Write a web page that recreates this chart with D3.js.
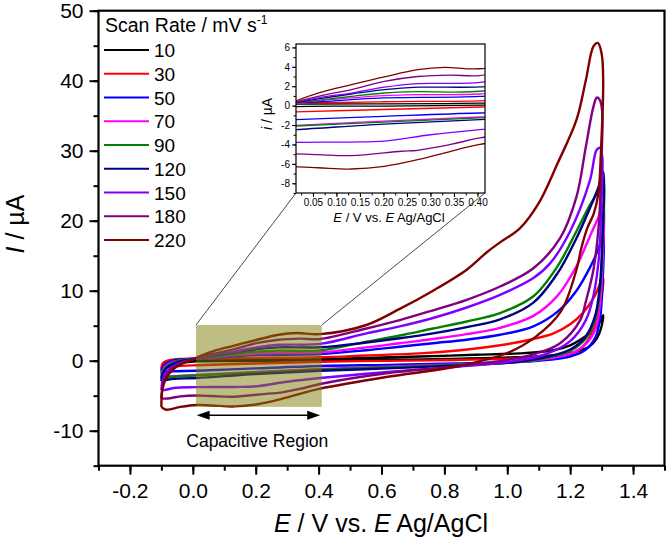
<!DOCTYPE html>
<html><head><meta charset="utf-8">
<script src="https://cdn.jsdelivr.net/npm/d3@7"></script>
<style>
body{margin:0;background:#fff}
svg{display:block}
text{font-family:"Liberation Sans",Arial,Helvetica,sans-serif;fill:#000}
</style>
</head><body>
<svg id="c" width="666" height="548"></svg>
<script>
// ---------------- data ----------------
const scanRates = ["10","30","50","70","90","120","150","180","220"];
const colors = ["#000000","#ff0000","#0000ff","#ff00ff","#008000","#000080","#8000ff","#800080","#800000"];

// forward (anodic) and reverse (cathodic) branches, [E (V), I (µA)]
const fwd10 = [[-0.1,-1.4],[-0.096,-0.7],[-0.085,-0.3],[-0.064,0.0],[-0.032,0.1],[0.0,0.15],[0.05,0.17],[0.2,0.18],[0.403,0.25],[0.6,0.45],[0.722,0.6],[0.9,0.85],[1.04,1.05],[1.147,1.5],[1.2,2.2],[1.232,3.0],[1.265,4.0],[1.29,5.2],[1.305,6.5]];
const rev10 = [[1.305,6.5],[1.298,4.6],[1.285,3.2],[1.26,2.0],[1.22,1.3],[1.15,0.8],[1.0,0.45],[0.8,0.25],[0.6,0.1],[0.405,0.05],[0.2,-0.05],[0.012,-0.1],[-0.05,-0.4],[-0.085,-0.9],[-0.1,-1.4]];

const fwd30 = [[-0.1,-1.1],[-0.096,-0.4],[-0.085,-0.05],[-0.064,0.15],[-0.032,0.25],[0.0,0.3],[0.061,0.3],[0.2,0.4],[0.405,0.5],[0.55,0.75],[0.722,1.05],[0.85,1.5],[0.977,2.2],[1.083,3.1],[1.147,3.9],[1.2,5.2],[1.24,6.8],[1.275,9.0],[1.305,11.8]];
const rev30 = [[1.305,11.8],[1.292,7.2],[1.274,4.4],[1.24,2.0],[1.21,1.05],[1.12,0.55],[1.04,0.35],[0.83,0.1],[0.62,-0.02],[0.405,-0.14],[0.2,-0.4],[0.012,-0.65],[-0.06,-0.8],[-0.09,-0.95],[-0.1,-1.1]];

const fwd50 = [[-0.1,-1.8],[-0.096,-1.0],[-0.085,-0.4],[-0.064,0.0],[-0.032,0.2],[0.0,0.3],[0.061,0.4],[0.132,0.62],[0.202,0.8],[0.405,0.96],[0.552,1.5],[0.658,2.0],[0.764,2.5],[0.871,3.0],[0.977,3.7],[1.083,4.9],[1.16,7.0],[1.22,10.0],[1.265,13.5],[1.29,16.0],[1.305,18.2]];
const rev50 = [[1.305,18.2],[1.303,11],[1.295,6],[1.28,3.3],[1.25,1.6],[1.2,0.6],[1.1,0.0],[1.0,-0.2],[0.83,-0.4],[0.62,-0.6],[0.405,-0.76],[0.2,-1.1],[0.012,-1.44],[-0.06,-1.5],[-0.09,-1.6],[-0.1,-1.8]];

const fwd70 = [[-0.1,-2.4],[-0.096,-1.4],[-0.085,-0.7],[-0.064,-0.2],[-0.032,0.1],[0.0,0.25],[0.061,0.5],[0.132,0.8],[0.202,1.03],[0.273,1.13],[0.405,1.2],[0.552,1.9],[0.658,2.5],[0.764,3.1],[0.871,3.8],[0.977,4.7],[1.083,6.4],[1.16,9.3],[1.22,13.5],[1.265,18.0],[1.29,20.5],[1.305,22.2]];
const rev70 = [[1.305,22.2],[1.303,14],[1.295,8],[1.28,4.5],[1.25,2.4],[1.2,1.0],[1.1,0.1],[1.0,-0.3],[0.83,-0.55],[0.62,-0.85],[0.405,-1.17],[0.2,-1.6],[0.012,-2.03],[-0.06,-2.2],[-0.09,-2.3],[-0.1,-2.4]];

const fwd90 = [[-0.1,-2.6],[-0.096,-1.6],[-0.085,-0.9],[-0.064,-0.3],[-0.032,0.1],[0.0,0.25],[0.061,0.55],[0.132,0.96],[0.202,1.3],[0.273,1.44],[0.405,1.48],[0.552,2.7],[0.658,3.6],[0.764,4.6],[0.871,5.6],[0.977,6.8],[1.083,9.2],[1.16,13.5],[1.22,18.5],[1.26,22.0],[1.29,24.3],[1.305,25.6]];
const rev90 = [[1.305,25.6],[1.303,17],[1.295,10],[1.28,6],[1.25,3.2],[1.2,1.4],[1.1,0.2],[1.0,-0.3],[0.83,-0.6],[0.62,-0.95],[0.405,-1.27],[0.2,-1.7],[0.012,-2.1],[-0.06,-2.3],[-0.09,-2.5],[-0.1,-2.6]];

const fwd120 = [[-0.1,-2.9],[-0.096,-1.9],[-0.085,-1.1],[-0.064,-0.5],[-0.032,0.0],[0.0,0.2],[0.061,0.69],[0.132,1.2],[0.202,1.65],[0.273,1.9],[0.405,1.93],[0.552,2.6],[0.658,3.2],[0.764,3.9],[0.871,4.8],[0.977,5.9],[1.083,8.3],[1.16,12.5],[1.22,17.5],[1.26,21.5],[1.29,24.8],[1.305,27.0]];
const rev120 = [[1.305,27.0],[1.303,18],[1.295,11],[1.28,6.5],[1.25,3.5],[1.2,1.6],[1.1,0.3],[1.0,-0.3],[0.83,-0.7],[0.62,-1.1],[0.405,-1.44],[0.2,-1.9],[0.012,-2.47],[-0.06,-2.6],[-0.09,-2.8],[-0.1,-2.9]];

const fwd150 = [[-0.1,-4.2],[-0.096,-2.8],[-0.085,-1.7],[-0.064,-0.8],[-0.032,-0.2],[0.0,0.2],[0.061,0.8],[0.132,1.3],[0.202,1.9],[0.273,2.27],[0.405,2.4],[0.552,3.9],[0.658,4.9],[0.764,6.1],[0.871,7.6],[0.977,9.4],[1.083,11.8],[1.136,13.9],[1.2,18.5],[1.263,25.8],[1.284,30.1],[1.295,30.4],[1.302,29.2]];
const rev150 = [[1.302,29.2],[1.299,22],[1.292,15],[1.275,9.5],[1.25,5.8],[1.2,2.8],[1.12,0.9],[1.0,-0.2],[0.83,-0.9],[0.62,-1.6],[0.405,-2.47],[0.3,-3.0],[0.202,-3.65],[0.132,-3.75],[0.012,-3.78],[-0.06,-3.9],[-0.09,-4.2],[-0.1,-4.2]];

const fwd180 = [[-0.1,-5.4],[-0.096,-3.6],[-0.085,-2.2],[-0.064,-1.0],[-0.032,-0.3],[0.0,0.2],[0.061,0.96],[0.132,1.65],[0.202,2.5],[0.273,3.0],[0.343,3.15],[0.405,3.1],[0.552,4.6],[0.658,5.8],[0.764,7.2],[0.871,8.7],[0.977,10.6],[1.083,13.2],[1.168,17.5],[1.22,23.4],[1.25,30.6],[1.274,36.3],[1.285,37.6],[1.295,37.2],[1.302,35.5]];
const rev180 = [[1.302,35.5],[1.298,27],[1.292,20],[1.274,13],[1.25,8.5],[1.232,5.8],[1.168,2.5],[1.094,1.05],[0.998,0.1],[0.828,-0.85],[0.616,-1.8],[0.405,-3.33],[0.343,-4.0],[0.273,-4.6],[0.238,-4.7],[0.132,-5.15],[0.061,-5.05],[0.012,-4.98],[-0.04,-5.1],[-0.08,-5.4],[-0.1,-5.4]];

const fwd220 = [[-0.1,-6.6],[-0.097,-4.2],[-0.085,-2.5],[-0.064,-1.3],[-0.032,-0.4],[0.0,0.2],[0.012,0.45],[0.061,1.3],[0.132,2.16],[0.202,2.96],[0.273,3.7],[0.33,3.95],[0.405,3.8],[0.552,5.1],[0.658,7.4],[0.764,10.0],[0.871,13.0],[0.935,15.5],[0.977,16.9],[1.04,18.9],[1.10,22.5],[1.16,28.2],[1.22,34.4],[1.25,40.1],[1.274,44.9],[1.288,45.4],[1.30,43.9],[1.305,40]];
const rev220 = [[1.305,40],[1.298,30],[1.29,24],[1.275,21],[1.255,19],[1.235,16],[1.22,13],[1.17,7],[1.09,3.4],[1.0,1.1],[0.83,-0.9],[0.62,-2.3],[0.405,-4.0],[0.343,-4.7],[0.273,-5.57],[0.202,-6.25],[0.132,-6.53],[0.061,-6.4],[0.012,-6.32],[-0.04,-6.6],[-0.085,-7.0],[-0.1,-6.6]];

const forward = [fwd10,fwd30,fwd50,fwd70,fwd90,fwd120,fwd150,fwd180,fwd220];
const reverse = [rev10,rev30,rev50,rev70,rev90,rev120,rev150,rev180,rev220];

const xTicks = [-0.2,0.0,0.2,0.4,0.6,0.8,1.0,1.2,1.4];
const yTicks = [-10,0,10,20,30,40,50];
const insetXTicks = [0.05,0.10,0.15,0.20,0.25,0.30,0.35,0.40];
const insetYTicks = [-8,-6,-4,-2,0,2,4,6];
const regionE = [0.01,0.41];
const regionI = [-6.6,5.1];

// ---------------- drawing ----------------
const svg = d3.select("#c");
const x = d3.scaleLinear([-0.3,1.5],[98.5,664.5]);
const y = d3.scaleLinear([-15,50],[465.7,10.7]);
const xi = d3.scaleLinear([0.014,0.416],[296,485]);
const yi = d3.scaleLinear([-9,6.35],[193,44]);

const defs = svg.append("defs");
defs.append("clipPath").attr("id","cm").append("rect")
  .attr("x",x(-0.3)).attr("y",y(50)).attr("width",x(1.5)-x(-0.3)).attr("height",y(-15)-y(50));
defs.append("clipPath").attr("id","ci").append("rect")
  .attr("x",xi.range()[0]).attr("y",yi.range()[1]).attr("width",xi.range()[1]-xi.range()[0]).attr("height",yi.range()[0]-yi.range()[1]);

const series = scanRates.map((r,i)=>({rate:r,color:colors[i],pts:forward[i].concat(reverse[i].slice(1))}));

const lineMain = d3.line().x(d=>x(d[0])).y(d=>y(d[1])).curve(d3.curveCatmullRom.alpha(0.5));
const lineInset = d3.line().x(d=>xi(d[0])).y(d=>yi(d[1])).curve(d3.curveCatmullRom.alpha(0.5));

// main curves
svg.append("g").attr("clip-path","url(#cm)")
  .selectAll("path").data(series).join("path")
  .attr("d",d=>lineMain(d.pts)).attr("fill","none")
  .attr("stroke",d=>d.color).attr("stroke-width",2.4).attr("stroke-linejoin","round");

// capacitive region box
svg.append("rect")
  .attr("x",x(regionE[0])).attr("y",y(regionI[1]))
  .attr("width",x(regionE[1])-x(regionE[0])).attr("height",y(regionI[0])-y(regionI[1]))
  .attr("fill","rgb(125,125,10)").attr("fill-opacity",0.5);

// connectors to inset
svg.append("line").attr("x1",x(regionE[0])).attr("y1",y(regionI[1])).attr("x2",xi.range()[0]).attr("y2",yi.range()[0])
  .attr("stroke","#333").attr("stroke-width",0.9);
svg.append("line").attr("x1",x(regionE[1])).attr("y1",y(regionI[1])).attr("x2",xi.range()[1]).attr("y2",yi.range()[0])
  .attr("stroke","#333").attr("stroke-width",0.9);

// double arrow
const ay = y(-7.8), ax1 = x(0.012), ax2 = x(0.405);
svg.append("line").attr("x1",ax1+8).attr("x2",ax2-8).attr("y1",ay).attr("y2",ay).attr("stroke","#000").attr("stroke-width",1.6);
svg.append("path").attr("d",`M${ax1},${ay}L${ax1+13},${ay-4.5}L${ax1+13},${ay+4.5}Z`).attr("fill","#000");
svg.append("path").attr("d",`M${ax2},${ay}L${ax2-13},${ay-4.5}L${ax2-13},${ay+4.5}Z`).attr("fill","#000");
svg.append("text").attr("x",x(0.205)).attr("y",y(-12.3)).attr("text-anchor","middle")
  .style("font-size","17.5px").text("Capacitive Region");

// axes main
function styleAxis(g,fs){
  g.select(".domain").remove();
  g.selectAll(".tick line").attr("stroke","#000").attr("stroke-width",2);
  g.selectAll(".tick text").style("font-size",fs).style("font-family",'"Liberation Sans",Arial,sans-serif').attr("fill","#000");
}
const gxMinor = svg.append("g").attr("transform",`translate(0,${y(-15)})`)
  .call(d3.axisBottom(x).tickValues(d3.range(-3,16).map(v=>v/10)).tickSize(5).tickFormat(""));
styleAxis(gxMinor,"1px");
const gx = svg.append("g").attr("transform",`translate(0,${y(-15)})`)
  .call(d3.axisBottom(x).tickValues(xTicks).tickSize(9).tickPadding(8).tickFormat(d=>d.toFixed(1)));
styleAxis(gx,"21px");
const gyMinor = svg.append("g").attr("transform",`translate(${x(-0.3)},0)`)
  .call(d3.axisLeft(y).tickValues(d3.range(-15,51,5)).tickSize(5).tickFormat(""));
styleAxis(gyMinor,"1px");
const gy = svg.append("g").attr("transform",`translate(${x(-0.3)},0)`)
  .call(d3.axisLeft(y).tickValues(yTicks).tickSize(9).tickPadding(6).tickFormat(d=>String(d)));
styleAxis(gy,"21px");

// frame
svg.append("rect").attr("x",x(-0.3)).attr("y",y(50)).attr("width",x(1.5)-x(-0.3)).attr("height",y(-15)-y(50))
  .attr("fill","none").attr("stroke","#000").attr("stroke-width",2.2);

// axis titles
const xt = svg.append("text").attr("x",381).attr("y",532).attr("text-anchor","middle").style("font-size","25px");
xt.append("tspan").style("font-style","italic").text("E");
xt.append("tspan").text(" / V vs. ");
xt.append("tspan").style("font-style","italic").text("E");
xt.append("tspan").text(" Ag/AgCl");
const yt = svg.append("text").attr("transform","translate(24,224) rotate(-90)").attr("text-anchor","middle").style("font-size","25px");
yt.append("tspan").style("font-style","italic").text("I");
yt.append("tspan").text(" / µA");

// legend
const lg = svg.append("g");
const lt = lg.append("text").attr("x",105).attr("y",32).style("font-size","19.5px");
lt.append("tspan").text("Scan Rate / mV s");
lt.append("tspan").attr("dy",-8).style("font-size","12px").text("-1");
series.forEach((s,i)=>{
  const ly = 50 + i*23.75;
  lg.append("line").attr("x1",104).attr("x2",149).attr("y1",ly).attr("y2",ly).attr("stroke",s.color).attr("stroke-width",2.2);
  lg.append("text").attr("x",154).attr("y",ly+7).style("font-size","19px").text(s.rate);
});

// inset
svg.append("rect").attr("x",xi.range()[0]).attr("y",yi.range()[1]).attr("width",xi.range()[1]-xi.range()[0]).attr("height",yi.range()[0]-yi.range()[1])
  .attr("fill","#fff");
svg.append("g").attr("clip-path","url(#ci)")
  .selectAll("path").data(series).join("path")
  .attr("d",d=>lineInset(d.pts)).attr("fill","none")
  .attr("stroke",d=>d.color).attr("stroke-width",1.3);
function styleInset(g){
  g.select(".domain").remove();
  g.selectAll(".tick line").attr("stroke","#000").attr("stroke-width",1);
  g.selectAll(".tick text").style("font-size","10px").style("font-family",'"Liberation Sans",Arial,sans-serif').attr("fill","#000");
}
const gxiMinor = svg.append("g").attr("transform",`translate(0,${yi.range()[0]})`)
  .call(d3.axisBottom(xi).tickValues(d3.range(1,17).map(v=>v*0.025)).tickSize(2.5).tickFormat(""));
styleInset(gxiMinor);
const gxi = svg.append("g").attr("transform",`translate(0,${yi.range()[0]})`)
  .call(d3.axisBottom(xi).tickValues(insetXTicks).tickSize(4).tickPadding(2).tickFormat(d=>d.toFixed(2)));
styleInset(gxi);
const gyiMinor = svg.append("g").attr("transform",`translate(${xi.range()[0]},0)`)
  .call(d3.axisLeft(yi).tickValues(d3.range(-9,7)).tickSize(2.5).tickFormat(""));
styleInset(gyiMinor);
const gyi = svg.append("g").attr("transform",`translate(${xi.range()[0]},0)`)
  .call(d3.axisLeft(yi).tickValues(insetYTicks).tickSize(4).tickPadding(2).tickFormat(d=>String(d)));
styleInset(gyi);
svg.append("rect").attr("x",xi.range()[0]).attr("y",yi.range()[1]).attr("width",xi.range()[1]-xi.range()[0]).attr("height",yi.range()[0]-yi.range()[1])
  .attr("fill","none").attr("stroke","#000").attr("stroke-width",1.2);
const ixt = svg.append("text").attr("x",389).attr("y",222).attr("text-anchor","middle").style("font-size","13px");
ixt.append("tspan").style("font-style","italic").text("E");
ixt.append("tspan").text(" / V vs. ");
ixt.append("tspan").style("font-style","italic").text("E");
ixt.append("tspan").text(" Ag/AgCl");
const iyt = svg.append("text").attr("transform","translate(272,114) rotate(-90)").attr("text-anchor","middle").style("font-size","14px");
iyt.append("tspan").style("font-style","italic").text("i");
iyt.append("tspan").text(" / µA");
</script>
</body></html>
